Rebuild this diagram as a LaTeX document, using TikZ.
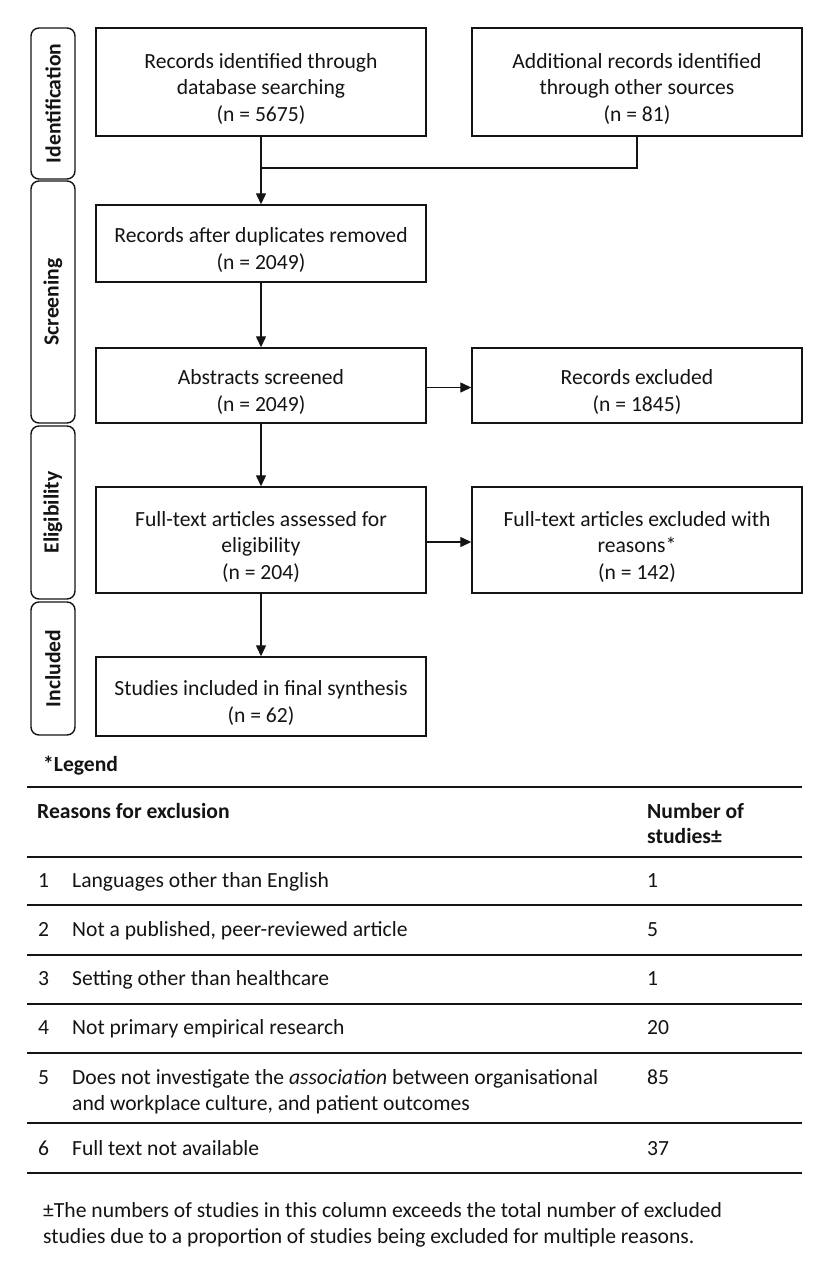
\documentclass[tikz,border=0pt]{standalone}
\usepackage{fontspec}
\setmainfont{Carlito}
\usetikzlibrary{arrows.meta}
\definecolor{ink}{RGB}{20,20,20}
\newcommand{\myStrut}{\rule{0pt}{28pt}}
\begin{document}
\begin{tikzpicture}[x=1pt,y=-1pt,
  every node/.style={font=\fontsize{21.6}{26.5}\selectfont, text=ink},
  box/.style={draw=ink, line width=1.4pt, align=center, inner sep=2pt, minimum width=330pt},
  phase/.style={draw=ink, line width=1.4pt, rounded corners=8pt, rotate=90, minimum height=44pt, inner sep=0pt, font=\fontsize{21.6}{26.5}\selectfont\bfseries},
  conn/.style={draw=ink, line width=1.3pt},
  arr/.style={conn, -{Triangle[length=11pt,width=10pt]}},
  rulel/.style={draw=ink, line width=2pt},
  cell/.style={anchor=base west, inner sep=0pt}]
\fill[white] (0,0) rectangle (830,1280);
\useasboundingbox (0,0) rectangle (830,1280);

% phase labels
\node[phase, minimum width=151pt] (pI) at (53,103.5) {Identification};
\node[phase, minimum width=242pt] (pS) at (53,302) {Screening};
\node[phase, minimum width=173pt] (pE) at (53,512.5) {Eligibility};
\node[phase, minimum width=133pt] (pN) at (53,668.5) {Included};

% flow boxes
\node[box, minimum height=108pt] (ident1) at (261,82) {\myStrut Records identified through\\database searching\\(n = 5675)};
\node[box, minimum height=108pt] (ident2) at (637,82) {\myStrut Additional records identified\\through other sources\\(n = 81)};
\node[box, minimum height=77pt] (dedup) at (261,243.5) {\myStrut Records after duplicates removed\\(n = 2049)};
\node[box, minimum height=75pt] (abs) at (261,385.5) {\myStrut Abstracts screened\\(n = 2049)};
\node[box, minimum height=75pt] (recex) at (637,385.5) {\myStrut Records excluded\\(n = 1845)};
\node[box, minimum height=106pt] (ft) at (261,540) {\myStrut Full-text articles assessed for\\eligibility\\(n = 204)};
\node[box, minimum height=106pt] (ftex) at (637,540) {\myStrut Full-text articles excluded with\\reasons*\\(n = 142)};
\node[box, minimum height=79pt] (incl) at (261,696.5) {\myStrut Studies included in final synthesis\\(n = 62)};

% connectors
\coordinate (join) at (261,168);
\draw[arr] (ident1.south) -- (dedup.north);
\draw[conn] (ident2.south) |- (join);
\draw[arr] (dedup) -- (abs);
\draw[arr] ([yshift=-2pt]abs.east) -- ([yshift=-2pt]recex.west);
\draw[arr] (abs) -- (ft);
\draw[arr] ([yshift=-2pt]ft.east) -- ([yshift=-2pt]ftex.west);
\draw[arr] (ft) -- (incl);

% legend
\node[cell] (leg) at (43,771) {\bfseries *Legend};
\foreach \yy in {787,857,905,955,1004,1053,1123,1173}
  \draw[rulel] (27,\yy) -- (802,\yy);
\node[cell] (hA) at (37,818) {\bfseries Reasons for exclusion};
\node[cell] (hB1) at (647,818) {\bfseries Number of};
\node[cell] (hB2) at (647,843) {\bfseries studies±};

\node[cell] (n1) at (38,887) {1};
\node[cell] (r1) at (72,887) {Languages other than English};
\node[cell] (c1) at (647,887) {1};
\node[cell] (n2) at (38,936) {2};
\node[cell] (r2) at (72,936) {Not a published, peer-reviewed article};
\node[cell] (c2) at (647,936) {5};
\node[cell] (n3) at (38,985) {3};
\node[cell] (r3) at (72,985) {Setting other than healthcare};
\node[cell] (c3) at (647,985) {1};
\node[cell] (n4) at (38,1034) {4};
\node[cell] (r4) at (72,1034) {Not primary empirical research};
\node[cell] (c4) at (647,1034) {20};
\node[cell] (n5) at (38,1084) {5};
\node[cell] (r5a) at (72,1084) {Does not investigate the \textit{association} between organisational};
\node[cell] (r5b) at (72,1110) {and workplace culture, and patient outcomes};
\node[cell] (c5) at (647,1084) {85};
\node[cell] (n6) at (38,1155) {6};
\node[cell] (r6) at (72,1155) {Full text not available};
\node[cell] (c6) at (647,1155) {37};

\node[cell] (fn1) at (43,1217) {±The numbers of studies in this column exceeds the total number of excluded};
\node[cell] (fn2) at (43,1243) {studies due to a proportion of studies being excluded for multiple reasons.};
\end{tikzpicture}
\end{document}
